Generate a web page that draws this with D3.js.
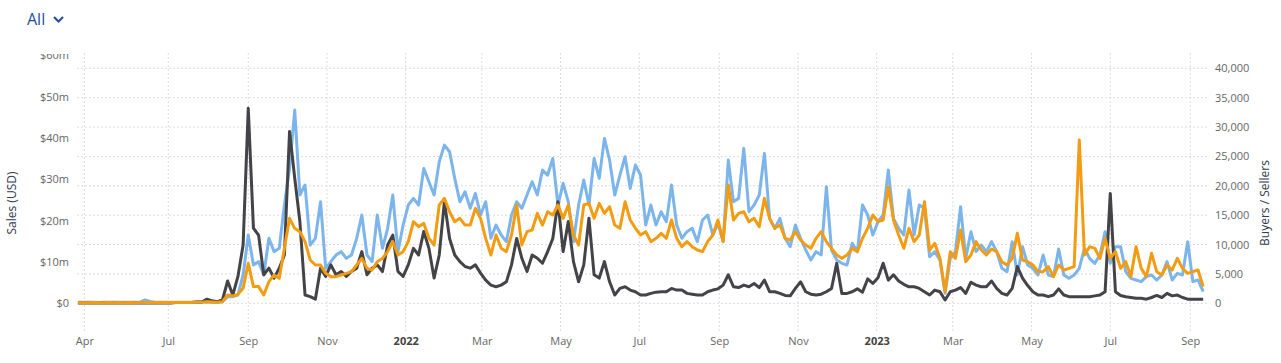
<!DOCTYPE html>
<html>
<head>
<meta charset="utf-8">
<script src="https://cdn.jsdelivr.net/npm/d3@7"></script>
<style>
  body { margin: 0; background: #fff; }
  svg { display: block; font-family: "Open Sans", sans-serif; }
</style>
</head>
<body>
<div id="chart"></div>
<script>
// data: one point every 4 days from 2021-04-22
const startDate = "2021-04-22";
const stepDays = 4;

// buyers (blue, right axis)
const buyers = [170,170,160,170,150,160,170,160,170,180,170,160,200,570,300,180,170,160,170,180,170,200,190,210,230,
  280,170,170,280,1130,1130,1420,4820,11620,6520,7090,4820,11060,8790,9360,16730,22960,32890,18430,20130,9920,11060,17290,5950,7090,8220,8790,7650,8220,11060,15030,
  8220,7090,15030,9360,12760,18430,8790,13320,16730,17860,16730,22960,20700,18430,24100,26930,25800,21260,17290,18990,16160,18710,15030,17290,11060,13320,11620,10490,15030,17290,16160,18430,20700,18430,22680,21830,24660,16730,20410,17290,10490,16730,20980,16730,24660,21260,28070,24380,18430,21830,24950,19560,23530,21830,13320,
  16730,13320,15590,13890,20130,13320,11060,12190,12760,10490,14180,15030,11620,13610,10490,24380,17290,17860,26370,15590,16730,18430,25520,14460,12760,14460,11060,9640,13320,11060,9070,7370,8790,8220,19850,9070,7370,6800,6520,10210,8790,16730,15030,11620,13890,15030,22680,14460,12760,11620,19280,11620,16730,16160,7940,8790,
  7370,1700,7650,8790,16440,7650,12190,8790,9920,8790,10490,8790,5950,5390,10490,4820,9640,6520,5950,4820,8220,4820,4540,9240,4820,4250,4820,5950,9360,7650,6800,8220,12190,6800,9640,9640,5390,4250,3970,3690,4540,4820,3970,4820,7090,3970,5100,4820,10490,3690,3970,1980];

// sellers (orange, right axis)
const sellers = [110,110,110,120,110,110,120,110,120,110,120,110,130,150,130,120,120,130,120,130,140,150,150,170,200,
  280,230,170,280,1420,1250,1530,2550,6800,2840,2840,1420,3690,4820,4250,9360,14460,12760,12190,10490,7370,6520,6520,5100,4540,4540,4820,5100,5390,6520,7650,
  5950,5670,7090,7650,8790,10490,8220,8790,10490,13890,13040,13610,11060,9920,16730,17860,15590,13890,14460,13320,13320,16160,14460,11060,8220,11620,9360,8790,11620,16730,9920,12190,12470,15310,13320,15590,15030,16730,14460,16730,11620,9920,16730,17010,14460,17010,15310,16440,13320,12760,17290,14180,12760,11620,12190,
  10490,11060,11910,11060,14180,11060,9640,10490,9640,9070,8790,10490,11620,14180,10490,20130,14180,15310,15590,13890,14460,13040,17860,14460,12760,13320,11060,10770,12190,10770,9920,9360,11060,12190,10490,9360,8220,7650,8220,9360,8790,11060,12760,15030,13890,14180,19850,14180,11620,9360,12760,10490,11620,17290,9070,10210,
  7650,1980,8790,7650,12470,7090,8220,10490,9070,8220,9240,8790,7090,6520,7650,11910,7370,7090,6520,5390,5390,6240,4540,6520,5670,5950,6240,27780,8220,9640,9360,7650,11060,7650,8790,5950,7090,4540,9640,5950,4540,8510,5390,4820,6520,5670,7650,5950,5100,5390,5670,2840];

// sales in $m (dark, left axis)
const sales = [0.1,0.1,0.1,0.1,0.1,0.1,0.1,0.1,0.1,0.1,0.1,0.1,0.1,0.1,0.1,0.1,0.1,0.1,0.1,0.2,0.2,0.2,0.2,0.3,0.3,
  1.0,0.6,0.4,0.8,5.4,2.0,6.5,14.1,47.2,18.2,16.5,6.9,8.5,6.1,8.5,11.7,41.6,30.3,19.8,2.0,1.6,1.0,8.5,6.5,9.3,6.9,7.7,6.5,7.7,8.5,12.5,
  6.9,8.5,9.3,7.7,14.1,16.5,7.7,6.5,9.3,13.3,11.7,17.4,13.3,6.1,11.7,24.6,15.7,11.7,10.1,8.9,8.5,9.3,7.3,5.6,4.4,4.0,4.4,5.2,9.3,15.7,10.9,7.7,11.7,10.9,9.7,12.5,15.7,24.6,12.5,19.8,10.1,5.2,9.3,20.6,6.9,6.1,10.1,5.2,2.0,3.6,4.0,3.2,2.8,2.0,2.0,
  2.4,2.7,2.8,2.8,3.6,3.2,3.2,2.4,2.2,2.0,2.0,2.8,3.2,3.5,4.4,6.9,4.0,3.8,4.4,4.0,4.8,3.8,5.6,2.8,2.8,2.4,1.9,1.8,3.6,5.2,2.8,2.2,2.0,2.2,2.8,3.6,9.7,2.4,2.4,2.8,3.5,2.7,5.9,4.8,6.2,9.7,5.6,6.9,5.4,4.6,4.0,4.0,3.6,2.8,2.0,3.2,
  2.8,0.8,2.8,3.2,3.8,2.4,5.1,4.4,4.0,4.0,5.4,3.6,2.4,2.0,3.6,8.9,6.1,4.3,2.8,2.0,2.0,1.6,2.0,3.5,2.0,1.6,1.6,1.6,1.6,1.6,1.8,2.0,2.8,26.6,2.8,1.9,1.6,1.4,1.2,1.2,1.0,1.4,1.9,1.4,2.4,1.8,2.0,1.4,1.0,1.0,1.0,1.0];

const tickDates = ["2021-04-27","2021-07-01","2021-09-01","2021-11-01","2022-01-01","2022-03-01","2022-05-01",
  "2022-07-01","2022-09-01","2022-11-01","2023-01-01","2023-03-01","2023-05-01","2023-07-01","2023-09-01"];
const tickLabels = ["Apr","Jul","Sep","Nov","2022","Mar","May","Jul","Sep","Nov","2023","Mar","May","Jul","Sep"];
const salesTicks = [0,10,20,30,40,50,60];
const countTicks = [0,5000,10000,15000,20000,25000,30000,35000,40000];

const W = 1281, H = 363;
const plot = { left: 77, right: 1207, top: 53, bottom: 332 };

const parse = d3.utcParse("%Y-%m-%d");
const t0 = parse(startDate);
const dates = buyers.map((d, i) => d3.utcDay.offset(t0, i * stepDays));

const svg = d3.select("#chart").append("svg").attr("width", W).attr("height", H);

// scales
const x = d3.scaleUtc()
  .domain([parse("2022-01-01"), parse("2023-01-01")])
  .range([405.7, 876.7]);
const yLeft = d3.scaleLinear().domain([0, 60]).range([303.3, 55.4]);
const yRight = d3.scaleLinear().domain([0, 40000]).range([303.3, 68.3]);

// "All" dropdown
svg.append("text").attr("x", 27).attr("y", 25)
  .attr("font-size", 16).attr("fill", "#1c4e9f").text("All");
svg.append("path").attr("d", "M54,17 L58.5,21.5 L63,17")
  .attr("fill", "none").attr("stroke", "#1c4e9f").attr("stroke-width", 2);

// grid
const grid = svg.append("g").attr("stroke", "#dcdcdc").attr("stroke-dasharray", "2,2");
grid.selectAll("line.h").data(countTicks).join("line").attr("class", "h")
  .attr("x1", plot.left).attr("x2", plot.right)
  .attr("y1", d => yRight(d)).attr("y2", d => yRight(d));
grid.selectAll("line.v").data(tickDates).join("line").attr("class", "v")
  .attr("x1", d => x(parse(d))).attr("x2", d => x(parse(d)))
  .attr("y1", plot.top).attr("y2", plot.bottom);

// left axis (labels only, top one cut off by the plot edge)
svg.append("clipPath").attr("id", "leftclip")
  .append("rect").attr("x", 0).attr("y", 54).attr("width", 80).attr("height", 300);
const leftAxis = svg.append("g").attr("clip-path", "url(#leftclip)")
  .append("g").attr("transform", "translate(69,0)")
  .call(d3.axisLeft(yLeft).tickValues(salesTicks).tickSize(0).tickPadding(0)
    .tickFormat(d => d === 0 ? "$0" : "$" + d + "m"));
leftAxis.select(".domain").remove();
leftAxis.selectAll("text").attr("fill", "#666").attr("font-size", 11).attr("font-family", "Open Sans");

// right axis
const rightAxis = svg.append("g").attr("transform", "translate(1215,0)")
  .call(d3.axisRight(yRight).tickValues(countTicks).tickSize(0).tickPadding(0)
    .tickFormat(d3.format(",")));
rightAxis.select(".domain").remove();
rightAxis.selectAll("text").attr("fill", "#666").attr("font-size", 11).attr("font-family", "Open Sans");

// bottom axis
const xAxis = svg.append("g").attr("transform", "translate(0,337)")
  .call(d3.axisBottom(x).tickValues(tickDates.map(parse)).tickSize(0).tickPadding(0)
    .tickFormat((d, i) => tickLabels[i]));
xAxis.select(".domain").remove();
xAxis.selectAll("text").attr("fill", "#666").attr("font-size", 11).attr("font-family", "Open Sans")
  .filter((d, i) => /^\d{4}$/.test(tickLabels[i]))
  .attr("font-weight", "bold").attr("fill", "#444");

// axis titles
svg.append("text").attr("transform", "translate(16,203) rotate(-90)")
  .attr("text-anchor", "middle").attr("font-size", 12).attr("fill", "#2f3b4f")
  .text("Sales (USD)");
svg.append("text").attr("transform", "translate(1269,203) rotate(-90)")
  .attr("text-anchor", "middle").attr("font-size", 12).attr("fill", "#2f3b4f")
  .text("Buyers / Sellers");

// lines
const lineR = d3.line().x((d, i) => x(dates[i])).y(d => yRight(d));
const lineL = d3.line().x((d, i) => x(dates[i])).y(d => yLeft(d));

svg.append("path").datum(buyers).attr("d", lineR)
  .attr("fill", "none").attr("stroke", "#7cb5ec").attr("stroke-width", 3).attr("stroke-linejoin", "round");
svg.append("path").datum(sales).attr("d", lineL)
  .attr("fill", "none").attr("stroke", "#434348").attr("stroke-width", 3).attr("stroke-linejoin", "round");
svg.append("path").datum(sellers).attr("d", lineR)
  .attr("fill", "none").attr("stroke", "#f39c12").attr("stroke-width", 3).attr("stroke-linejoin", "round");
</script>
</body>
</html>
